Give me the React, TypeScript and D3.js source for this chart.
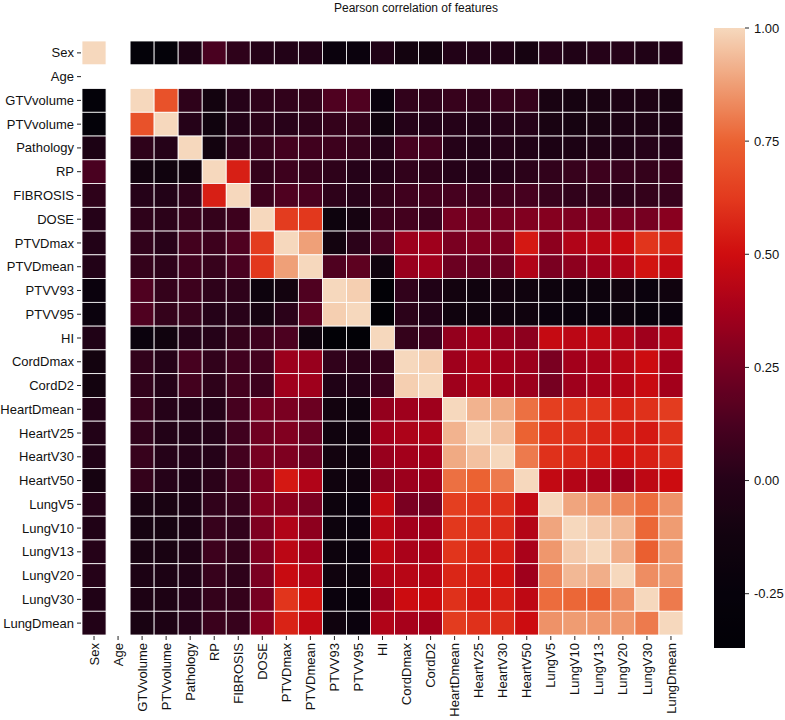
import React from "react";
import * as d3 from "d3";

const features = [
  "Sex", "Age", "GTVvolume", "PTVvolume", "Pathology", "RP", "FIBROSIS", "DOSE",
  "PTVDmax", "PTVDmean", "PTVV93", "PTVV95", "HI", "CordDmax", "CordD2",
  "HeartDmean", "HeartV25", "HeartV30", "HeartV50", "LungV5", "LungV10",
  "LungV13", "LungV20", "LungV30", "LungDmean",
];

const N = null;
const rowSex = [1, N, -0.3, -0.3, -0.06, 0.12, 0.03, 0.0, -0.02, -0.02, -0.2, -0.2, -0.03, -0.12, -0.12, -0.02, -0.02, -0.03, -0.1, 0.0, -0.03, 0.0, 0.0, -0.03, -0.02];
const rowAge = [N, N, N, N, N, N, N, N, N, N, N, N, N, N, N, N, N, N, N, N, N, N, N, N, N];
const rowGTV = [-0.3, N, 1, 0.7, 0.03, -0.12, 0.0, 0.03, 0.04, 0.05, 0.14, 0.14, -0.2, 0.04, 0.04, 0.06, 0.04, 0.06, 0.05, -0.08, -0.1, -0.08, -0.06, -0.05, -0.08];
const rowPTV = [-0.3, N, 0.7, 1, 0.0, -0.15, -0.02, 0.02, 0.01, 0.03, 0.05, 0.05, -0.15, 0.0, 0.0, 0.0, -0.02, 0.0, 0.0, -0.08, -0.1, -0.08, -0.06, -0.05, -0.05];
const rowPath = [-0.06, N, 0.03, 0.0, 1, -0.12, 0.03, 0.06, 0.1, 0.09, 0.08, 0.06, 0.0, 0.11, 0.1, 0.0, -0.02, 0.0, -0.03, -0.06, -0.06, -0.04, -0.03, 0.0, 0.0];
const rowRP = [0.12, N, -0.12, -0.15, -0.12, 1, 0.55, 0.05, 0.08, 0.06, 0.03, 0.0, 0.0, 0.04, 0.03, 0.0, 0.0, 0.0, 0.02, 0.04, 0.06, 0.08, 0.06, 0.05, 0.07];
const rowFib = [0.03, N, 0.0, -0.02, 0.03, 0.55, 1, 0.08, 0.14, 0.12, 0.03, 0.01, 0.05, 0.09, 0.1, 0.11, 0.09, 0.1, 0.11, 0.06, 0.04, 0.05, 0.03, 0.05, 0.06];
const rowDose = [0.0, N, 0.03, 0.02, 0.06, 0.05, 0.08, 1, 0.63, 0.62, -0.18, -0.1, 0.08, 0.1, 0.08, 0.25, 0.23, 0.25, 0.28, 0.29, 0.27, 0.28, 0.26, 0.25, 0.3];
const rowDmax = [-0.02, N, 0.04, 0.01, 0.1, 0.08, 0.14, 0.63, 1, 0.88, -0.12, 0.02, 0.13, 0.35, 0.36, 0.26, 0.28, 0.27, 0.53, 0.31, 0.41, 0.44, 0.48, 0.61, 0.56];
const rowDmean = [-0.02, N, 0.05, 0.03, 0.09, 0.06, 0.12, 0.62, 0.88, 1, 0.14, 0.18, -0.15, 0.34, 0.36, 0.22, 0.21, 0.22, 0.41, 0.26, 0.31, 0.36, 0.41, 0.52, 0.46];
const rowV93 = [-0.2, N, 0.14, 0.05, 0.08, 0.03, 0.03, -0.18, -0.12, 0.14, 1, 0.98, -0.37, 0.04, -0.03, -0.12, -0.15, -0.12, -0.15, -0.18, -0.18, -0.18, -0.15, -0.2, -0.15];
const rowV95 = [-0.2, N, 0.14, 0.05, 0.06, 0.0, 0.01, -0.1, 0.02, 0.18, 0.98, 1, -0.37, 0.02, -0.02, -0.15, -0.15, -0.15, -0.15, -0.2, -0.2, -0.2, -0.18, -0.22, -0.2];
const rowHI = [-0.03, N, -0.2, -0.15, 0.0, 0.0, 0.05, 0.08, 0.13, -0.15, -0.37, -0.37, 1, 0.05, 0.08, 0.33, 0.37, 0.34, 0.31, 0.47, 0.44, 0.45, 0.41, 0.36, 0.41];
const rowCordDmax = [-0.12, N, 0.04, 0.0, 0.11, 0.04, 0.09, 0.1, 0.35, 0.34, 0.04, 0.02, 0.05, 1, 0.98, 0.36, 0.4, 0.37, 0.35, 0.26, 0.37, 0.39, 0.43, 0.49, 0.38];
const rowCordD2 = [-0.12, N, 0.04, 0.0, 0.1, 0.03, 0.1, 0.08, 0.36, 0.36, -0.03, -0.02, 0.08, 0.98, 1, 0.36, 0.4, 0.37, 0.35, 0.25, 0.36, 0.39, 0.42, 0.48, 0.37];
const rowHDmean = [-0.02, N, 0.06, 0.0, 0.0, 0.0, 0.11, 0.25, 0.26, 0.22, -0.12, -0.15, 0.33, 0.36, 0.36, 1, 0.92, 0.9, 0.78, 0.64, 0.62, 0.61, 0.57, 0.6, 0.63];
const rowHV25 = [-0.02, N, 0.04, -0.02, -0.02, 0.0, 0.09, 0.23, 0.28, 0.21, -0.15, -0.15, 0.37, 0.4, 0.4, 0.92, 1, 0.95, 0.75, 0.61, 0.6, 0.57, 0.55, 0.53, 0.6];
const rowHV30 = [-0.03, N, 0.06, 0.0, 0.0, 0.0, 0.1, 0.25, 0.27, 0.22, -0.12, -0.15, 0.34, 0.37, 0.37, 0.9, 0.95, 1, 0.8, 0.6, 0.58, 0.55, 0.52, 0.55, 0.59];
const rowHV50 = [-0.1, N, 0.05, 0.0, -0.03, 0.02, 0.11, 0.28, 0.53, 0.41, -0.15, -0.15, 0.31, 0.35, 0.35, 0.78, 0.75, 0.8, 1, 0.46, 0.42, 0.39, 0.36, 0.45, 0.49];
const rowLV5 = [0.0, N, -0.08, -0.08, -0.06, 0.04, 0.06, 0.29, 0.31, 0.26, -0.18, -0.2, 0.47, 0.26, 0.25, 0.64, 0.61, 0.6, 0.46, 1, 0.89, 0.86, 0.82, 0.77, 0.85];
const rowLV10 = [-0.03, N, -0.1, -0.1, -0.06, 0.06, 0.04, 0.27, 0.41, 0.31, -0.18, -0.2, 0.44, 0.37, 0.36, 0.62, 0.6, 0.58, 0.42, 0.89, 1, 0.97, 0.93, 0.76, 0.87];
const rowLV13 = [0.0, N, -0.08, -0.08, -0.04, 0.08, 0.05, 0.28, 0.44, 0.36, -0.18, -0.2, 0.45, 0.39, 0.39, 0.61, 0.57, 0.55, 0.39, 0.86, 0.97, 1, 0.91, 0.74, 0.86];
const rowLV20 = [0.0, N, -0.06, -0.06, -0.03, 0.06, 0.03, 0.26, 0.48, 0.41, -0.15, -0.18, 0.41, 0.43, 0.42, 0.57, 0.55, 0.52, 0.36, 0.82, 0.93, 0.91, 1, 0.84, 0.86];
const rowLV30 = [-0.03, N, -0.05, -0.05, 0.0, 0.05, 0.05, 0.25, 0.61, 0.52, -0.2, -0.22, 0.36, 0.49, 0.48, 0.6, 0.53, 0.55, 0.45, 0.77, 0.76, 0.74, 0.84, 1, 0.8];
const rowLDmean = [-0.02, N, -0.08, -0.05, 0.0, 0.07, 0.06, 0.3, 0.56, 0.46, -0.15, -0.2, 0.41, 0.38, 0.37, 0.63, 0.6, 0.59, 0.49, 0.85, 0.87, 0.86, 0.86, 0.8, 1];

const matrix = [
  rowSex, rowAge, rowGTV, rowPTV, rowPath, rowRP, rowFib, rowDose, rowDmax, rowDmean,
  rowV93, rowV95, rowHI, rowCordDmax, rowCordD2, rowHDmean, rowHV25, rowHV30, rowHV50,
  rowLV5, rowLV10, rowLV13, rowLV20, rowLV30, rowLDmean,
];

const colorbarTicks = [-0.25, 0, 0.25, 0.5, 0.75, 1.0];
const vMin = -0.37;
const vMax = 1.0;
const colorStops = [-0.37, -0.25, -0.125, 0.0, 0.125, 0.25, 0.375, 0.5, 0.625, 0.75, 0.875, 1.0];
const colorValues = [
  "#020106", "#06020b", "#12030f", "#250218", "#4a0120", "#760021",
  "#a5001b", "#cf0d0f", "#e33a1e", "#eb6232", "#ef9e75", "#f6d8bd",
];

const FONT = "'Liberation Sans', Arial, Helvetica, sans-serif";

export default function App() {
  const left = 82, right = 683, top = 41, bottom = 635;
  const x = d3.scaleBand<string>().domain(features).range([left, right]);
  const y = d3.scaleBand<string>().domain(features).range([top, bottom]);
  const color = d3
    .scaleLinear<string>()
    .domain(colorStops)
    .range(colorValues)
    .interpolate(d3.interpolateRgb)
    .clamp(true);

  const cbX = 714, cbW = 31, cbTop = 28, cbBottom = 648;
  const cbScale = d3.scaleLinear().domain([vMin, vMax]).range([cbBottom, cbTop]);
  const gradStops = d3.range(0, 101).map((i) => {
    const v = vMin + ((vMax - vMin) * i) / 100;
    return { offset: i, c: color(v) };
  });

  const cells: { r: number; c: number; v: number }[] = [];
  matrix.forEach((row, r) =>
    row.forEach((v, c) => {
      if (v !== null && v !== undefined) cells.push({ r, c, v: v as number });
    })
  );

  return (
    <svg
      width={785}
      height={720}
      style={{ position: "absolute", left: 0, top: 0, background: "#fff" }}
      fontFamily={FONT}
    >
      <rect x={0} y={0} width={785} height={720} fill="#fff" />
      <text x={416} y={12} textAnchor="middle" fontSize={12} fill="#111">
        Pearson correlation of features
      </text>

      <g>
        {cells.map((d) => (
          <rect
            key={`${d.r}-${d.c}`}
            x={x(features[d.c])!}
            y={y(features[d.r])!}
            width={x.bandwidth()}
            height={y.bandwidth()}
            fill={color(d.v)}
            stroke="#ffffff"
            strokeWidth={0.8}
          />
        ))}
      </g>

      {/* y axis */}
      <g>
        {features.map((f) => {
          const cy = y(f)! + y.bandwidth() / 2;
          return (
            <g key={f}>
              <line x1={77} x2={81} y1={cy} y2={cy} stroke="#222" strokeWidth={1} />
              <text x={74} y={cy} dy="0.35em" textAnchor="end" fontSize={13} fill="#111">
                {f}
              </text>
            </g>
          );
        })}
      </g>

      {/* x axis */}
      <g>
        {features.map((f) => {
          const cx = x(f)! + x.bandwidth() / 2;
          return (
            <g key={f}>
              <line x1={cx} x2={cx} y1={636} y2={640} stroke="#222" strokeWidth={1} />
              <text
                transform={`translate(${cx},${643}) rotate(-90)`}
                dy="0.35em"
                textAnchor="end"
                fontSize={13}
                fill="#111"
              >
                {f}
              </text>
            </g>
          );
        })}
      </g>

      {/* colorbar */}
      <defs>
        <linearGradient id="cbGrad" x1="0" y1="1" x2="0" y2="0">
          {gradStops.map((s) => (
            <stop key={s.offset} offset={`${s.offset}%`} stopColor={s.c} />
          ))}
        </linearGradient>
      </defs>
      <rect x={cbX} y={cbTop} width={cbW} height={cbBottom - cbTop} fill="url(#cbGrad)" />
      <g>
        {colorbarTicks.map((t) => {
          const ty = cbScale(t);
          return (
            <g key={t}>
              <line x1={cbX + cbW} x2={cbX + cbW + 4} y1={ty} y2={ty} stroke="#222" strokeWidth={1} />
              <text x={cbX + cbW + 9} y={ty} dy="0.35em" fontSize={13} fill="#111">
                {t.toFixed(2)}
              </text>
            </g>
          );
        })}
      </g>
    </svg>
  );
}
